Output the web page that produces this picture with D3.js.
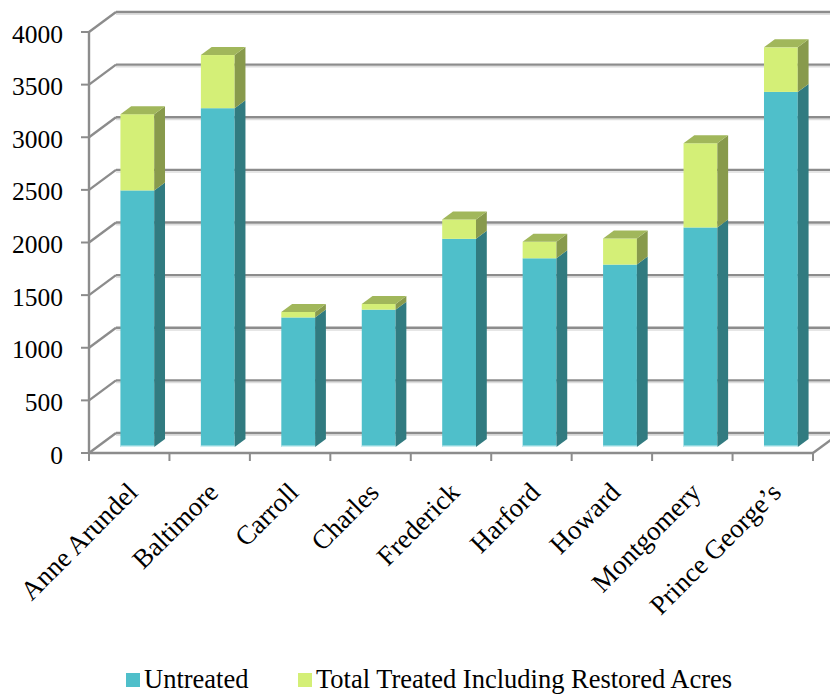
<!DOCTYPE html>
<html>
<head>
<meta charset="utf-8">
<script src="https://cdn.jsdelivr.net/npm/d3@7"></script>
<style>
  html, body { margin: 0; padding: 0; background: #fff; }
</style>
</head>
<body>
<div id="chart"></div>
<script>
// counties and acres
var categories = ['Anne Arundel', 'Baltimore', 'Carroll', 'Charles', 'Frederick', 'Harford', 'Howard', 'Montgomery', 'Prince George\u2019s'];
var untreated = [2438, 3219, 1231, 1305, 1978, 1793, 1733, 2086, 3374];
var treated = [724, 505, 52, 54, 184, 157, 248, 800, 423];
var yTicks = [0, 500, 1000, 1500, 2000, 2500, 3000, 3500, 4000];
var seriesNames = ['Untreated', 'Total Treated Including Restored Acres'];

var W = 830, H = 696;
var DX = 27, DY = -20;          // depth of the box
var BAR_D0 = 0.3, BAR_D1 = 0.7; // bar depth as fraction of box
var FONT = 'Liberation Serif';

var colors = [
	{ front: '#4fbfca', side: '#317b80', top: '#3f9ea6' },
	{ front: '#d4ef77', side: '#889a4c', top: '#a1b75b' }
];

var svg = d3.select('#chart').append('svg')
	.attr('width', W)
	.attr('height', H);

var x = d3.scaleBand()
	.domain(categories)
	.range([89, 813]);

var y = d3.scaleLinear()
	.domain([0, 4000])
	.range([453, 32]);

// project a point at depth d (0 front .. 1 back)
function px(xv, d) { return xv + d * DX; }
function py(yv, d) { return yv + d * DY; }

var grid = svg.append('g').attr('class', 'grid');

// back wall gridlines + shadow
grid.selectAll('.shadow')
	.data(yTicks)
	.enter().append('line')
	.attr('x1', px(x.range()[0], 1))
	.attr('x2', px(x.range()[1], 1))
	.attr('y1', d => py(y(d), 1) + 2.2)
	.attr('y2', d => py(y(d), 1) + 2.2)
	.attr('stroke', '#dedede')
	.attr('stroke-width', 1.5);

grid.selectAll('.back')
	.data(yTicks)
	.enter().append('line')
	.attr('x1', px(x.range()[0], 1))
	.attr('x2', px(x.range()[1], 1))
	.attr('y1', d => py(y(d), 1))
	.attr('y2', d => py(y(d), 1))
	.attr('stroke', '#8c8c8c')
	.attr('stroke-width', 2.4);

// side wall diagonals
grid.selectAll('.side')
	.data(yTicks)
	.enter().append('line')
	.attr('x1', x.range()[0])
	.attr('y1', d => y(d))
	.attr('x2', px(x.range()[0], 1))
	.attr('y2', d => py(y(d), 1))
	.attr('stroke', '#8c8c8c')
	.attr('stroke-width', 2.4);

// bars
var barW = x.bandwidth() * 0.42;
var bars = svg.append('g').attr('class', 'bars');

categories.forEach(function(c, i) {
	var x0 = x(c) + (x.bandwidth() - barW) / 2;
	var stack = [[0, untreated[i]], [untreated[i], untreated[i] + treated[i]]];
	var g = bars.append('g');
	var dd = BAR_D1 - BAR_D0;
	stack.forEach(function(s, k) {
		var xl = px(x0, BAR_D0), xr = px(x0 + barW, BAR_D0);
		var yb = py(y(s[0]), BAR_D0), yt = py(y(s[1]), BAR_D0);
		g.append('rect')
			.attr('x', xl).attr('y', yt)
			.attr('width', xr - xl).attr('height', yb - yt)
			.attr('fill', colors[k].front);
		g.append('path')
			.attr('d', 'M' + xr + ',' + yb + 'L' + xr + ',' + yt +
				'L' + (xr + dd * DX) + ',' + (yt + dd * DY) +
				'L' + (xr + dd * DX) + ',' + (yb + dd * DY) + 'Z')
			.attr('fill', colors[k].side);
		if (k === stack.length - 1) {
			g.append('path')
				.attr('d', 'M' + xl + ',' + yt + 'L' + xr + ',' + yt +
					'L' + (xr + dd * DX) + ',' + (yt + dd * DY) +
					'L' + (xl + dd * DX) + ',' + (yt + dd * DY) + 'Z')
				.attr('fill', colors[k].top);
		}
		if (k === 0) {
			g.append('rect')
				.attr('x', xl).attr('y', yb - 1.5)
				.attr('width', xr - xl).attr('height', 1.5)
				.attr('fill', '#cdeef1');
		}
	});
});

// floor front + right edges, axis line
var axes = svg.append('g').attr('class', 'axes');
axes.append('line')
	.attr('x1', x.range()[0]).attr('x2', x.range()[1])
	.attr('y1', y(0)).attr('y2', y(0))
	.attr('stroke', '#8c8c8c').attr('stroke-width', 2.4);
axes.append('line')
	.attr('x1', x.range()[1]).attr('y1', y(0))
	.attr('x2', px(x.range()[1], 1)).attr('y2', py(y(0), 1))
	.attr('stroke', '#8c8c8c').attr('stroke-width', 2.4);
axes.append('line')
	.attr('x1', x.range()[0]).attr('x2', x.range()[0])
	.attr('y1', y(4000)).attr('y2', y(0) + 1)
	.attr('stroke', '#8c8c8c').attr('stroke-width', 2.4);

// y ticks and labels
axes.selectAll('.ytick')
	.data(yTicks)
	.enter().append('line')
	.attr('x1', x.range()[0] - 8).attr('x2', x.range()[0])
	.attr('y1', d => y(d)).attr('y2', d => y(d))
	.attr('stroke', '#8c8c8c').attr('stroke-width', 2);

axes.selectAll('.ylabel')
	.data(yTicks)
	.enter().append('text')
	.attr('x', 63)
	.attr('y', d => y(d) + 10.5)
	.attr('text-anchor', 'end')
	.style('font-family', FONT)
	.style('font-size', '25.5px')
	.text(d => d);

// x ticks on category boundaries
var bounds = categories.map(c => x(c)).concat([x.range()[1]]);
axes.selectAll('.xtick')
	.data(bounds)
	.enter().append('line')
	.attr('x1', d => d).attr('x2', d => d)
	.attr('y1', y(0)).attr('y2', y(0) + 8)
	.attr('stroke', '#8c8c8c').attr('stroke-width', 2);

axes.selectAll('.xlabel')
	.data(categories)
	.enter().append('text')
	.attr('text-anchor', 'end')
	.attr('transform', d => 'translate(' + (x(d) + x.bandwidth() / 2 + 10) + ',' + 494 + ') rotate(-45)')
	.style('font-family', FONT)
	.style('font-size', '27px')
	.text(d => d);

// legend
var legendX = [126, 298];
var legend = svg.append('g').attr('class', 'legend');
seriesNames.forEach(function(name, k) {
	legend.append('rect')
		.attr('x', legendX[k]).attr('y', 673)
		.attr('width', 14).attr('height', 14)
		.attr('fill', colors[k].front);
	legend.append('text')
		.attr('x', legendX[k] + 18).attr('y', 688)
		.style('font-family', FONT)
		.style('font-size', '26.5px')
		.text(name);
});
</script>
</body>
</html>
